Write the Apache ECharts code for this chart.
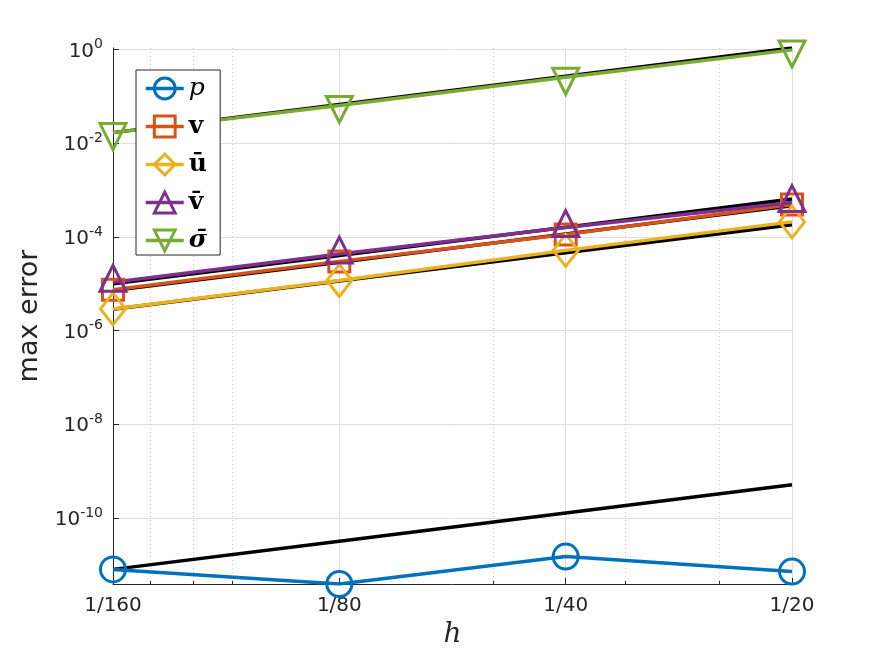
<!DOCTYPE html>
<html>
<head>
<meta charset="utf-8"/>
<title>max error vs h</title>
<script src="https://cdn.jsdelivr.net/npm/echarts@6/dist/echarts.min.js"></script>
<style>html,body{margin:0;padding:0;background:#fff}#chart{width:875px;height:656px}</style>
</head>
<body>
<div id="chart"></div>
<script>
var hValues = [1/160, 1/80, 1/40, 1/20];
var hLabels = ['1/160', '1/80', '1/40', '1/20'];
var hMinor = [0.007, 0.008, 0.009, 0.02, 0.03, 0.04];
var yTicks = [1e-10, 1e-8, 1e-6, 1e-4, 1e-2, 1];

var pErr = [8.0e-12, 3.9e-12, 1.5e-11, 7.2e-12];
var vErr = [7.4e-6, 3.0e-5, 1.13e-4, 4.9e-4];
var ubarErr = [2.9e-6, 1.17e-5, 5.15e-5, 2.09e-4];
var vbarErr = [1.07e-5, 4.3e-5, 1.58e-4, 5.4e-4];
var sigmaErr = [0.0168, 0.064, 0.255, 0.98];

// black reference lines (slope 2)
var pRef = [8.0e-12, 3.2e-11, 1.28e-10, 5.12e-10];
var vRef = [7.2e-6, 2.88e-5, 1.15e-4, 4.6e-4];
var ubarRef = [2.85e-6, 1.14e-5, 4.56e-5, 1.82e-4];
var vbarRef = [1.0e-5, 4.0e-5, 1.6e-4, 6.4e-4];
var sigmaRef = [0.0168, 0.0672, 0.269, 1.075];

var yMin = 3.9e-12, yMax = 1.075;

function pairs(ys) {
  return hValues.map(function (h, i) { return [h, ys[i]]; });
}

function errSeries(name, ys, color, symbol, size, extra) {
  var s = {
    name: name,
    type: 'line',
    data: pairs(ys),
    z: 3,
    color: color,
    symbol: symbol,
    symbolSize: size,
    showAllSymbol: true,
    lineStyle: { color: color, width: 3.5 },
    itemStyle: { color: 'rgba(255,255,255,0)', borderColor: color, borderWidth: 3 },
    emphasis: { disabled: true },
    animation: false
  };
  for (var k in extra) s[k] = extra[k];
  return s;
}

function refSeries(ys) {
  return {
    name: 'ref',
    type: 'line',
    data: pairs(ys),
    z: 2,
    symbol: 'none',
    lineStyle: { color: '#000', width: 3.5 },
    emphasis: { disabled: true },
    animation: false
  };
}

var chart = echarts.init(document.getElementById('chart'));

var option = {
  backgroundColor: '#fff',
  animation: false,
  grid: { left: 113, right: 83, top: 48, bottom: 72 },
  xAxis: [{
    type: 'log',
    logBase: 2,
    min: 1/160,
    max: 1/20,
    name: 'h',
    nameLocation: 'middle',
    nameGap: 36,
    nameTextStyle: { fontFamily: 'DejaVu Serif', fontStyle: 'italic', fontSize: 28, color: '#262626' },
    axisLine: { show: true, lineStyle: { color: '#262626', width: 1 } },
    axisTick: { show: true, inside: true, length: 6, customValues: hValues, lineStyle: { color: '#262626' } },
    axisLabel: {
      customValues: hValues,
      margin: 12,
      fontFamily: 'DejaVu Sans', fontSize: 20, color: '#262626',
      formatter: function (v) {
        var best = 0;
        hValues.forEach(function (h, i) {
          if (Math.abs(Math.log(h / v)) < Math.abs(Math.log(hValues[best] / v))) best = i;
        });
        return hLabels[best];
      }
    },
    splitLine: { show: true, lineStyle: { color: '#dfdfdf', width: 1 } }
  }, {
    type: 'log',
    logBase: 2,
    min: 1/160,
    max: 1/20,
    position: 'bottom',
    axisLine: { show: false },
    axisTick: { show: true, inside: true, length: 3, customValues: hMinor, lineStyle: { color: '#262626' } },
    axisLabel: { show: false, customValues: hMinor },
    splitLine: { show: true, lineStyle: { color: '#cfcfcf', width: 1, type: [1, 3] } }
  }],
  yAxis: {
    type: 'log',
    logBase: 10,
    min: yMin,
    max: yMax,
    name: 'max error',
    nameLocation: 'middle',
    nameRotate: 90,
    nameGap: 68,
    nameTextStyle: { fontFamily: 'DejaVu Sans', fontSize: 27, color: '#262626' },
    axisLine: { show: true, lineStyle: { color: '#262626', width: 1 } },
    axisTick: { show: true, inside: true, length: 6, customValues: yTicks, lineStyle: { color: '#262626' } },
    axisLabel: {
      customValues: yTicks,
      margin: 10,
      color: '#262626',
      formatter: function (v) {
        var e = Math.round(Math.log10(v));
        return '{b|10}{s|' + e + '}';
      },
      rich: {
        b: { fontFamily: 'DejaVu Sans', fontSize: 20, color: '#262626', lineHeight: 24, verticalAlign: 'bottom' },
        s: { fontFamily: 'DejaVu Sans', fontSize: 14, color: '#262626', lineHeight: 24, verticalAlign: 'top', padding: [0, 0, 12, 0] }
      }
    },
    splitLine: { show: true, lineStyle: { color: '#dfdfdf', width: 1 } }
  },
  legend: {
    data: ['p', 'v', 'ū', 'v̄', 'σ̄'],
    orient: 'vertical',
    left: 136,
    top: 70,
    padding: [6, 13, 2, 8],
    itemWidth: 38,
    itemHeight: 26,
    itemGap: 13,
    backgroundColor: '#fff',
    borderColor: '#262626',
    borderWidth: 1,
    borderRadius: 0,
    lineStyle: { width: 'inherit' },
    itemStyle: { borderWidth: 'inherit' },
    formatter: function (name) {
      if (name === 'p') return '{it|p}';
      if (name === 'σ̄') return '{bi|σ̄}';
      return '{bd|' + name + '}';
    },
    textStyle: {
      rich: {
        it: { fontFamily: 'DejaVu Serif', fontStyle: 'italic', fontSize: 25, color: '#000' },
        bd: { fontFamily: 'DejaVu Serif', fontWeight: 'bold', fontSize: 25, color: '#000' },
        bi: { fontFamily: 'DejaVu Serif', fontWeight: 'bold', fontStyle: 'italic', fontSize: 25, color: '#000' }
      }
    }
  },
  series: [
    refSeries(pRef),
    refSeries(vRef),
    refSeries(ubarRef),
    refSeries(vbarRef),
    refSeries(sigmaRef),
    errSeries('p', pErr, '#0072BD', 'circle', 25, {}),
    errSeries('v', vErr, '#D95319', 'rect', 21, {}),
    errSeries('ū', ubarErr, '#EDB120', 'diamond', [25, 32], {}),
    errSeries('v̄', vbarErr, '#7E2F8E', 'triangle', [26, 26], { symbolOffset: [0, -4] }),
    errSeries('σ̄', sigmaErr, '#77AC30', 'triangle', [26, 26], { symbolRotate: 180, symbolOffset: [0, 4] })
  ]
};

chart.setOption(option);
</script>
</body>
</html>
